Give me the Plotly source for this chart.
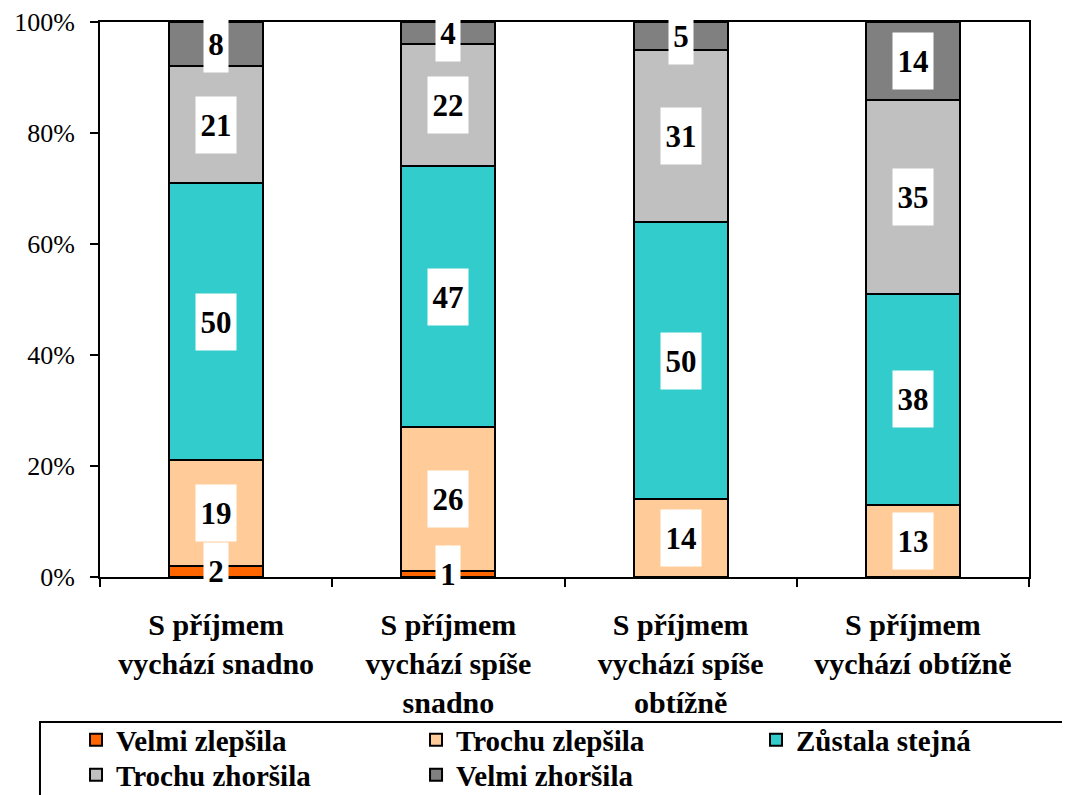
import plotly.graph_objects as go

categories = [
    "S příjmem<br>vychází snadno",
    "S příjmem<br>vychází spíše<br>snadno",
    "S příjmem<br>vychází spíše<br>obtížně",
    "S příjmem<br>vychází obtížně",
]
series_names = ["Velmi zlepšila", "Trochu zlepšila", "Zůstala stejná", "Trochu zhoršila", "Velmi zhoršila"]
velmi_zlepsila = [2, 1, 0, 0]
trochu_zlepsila = [19, 26, 14, 13]
zustala_stejna = [50, 47, 50, 38]
trochu_zhorsila = [21, 22, 31, 35]
velmi_zhorsila = [8, 4, 5, 14]
y_ticks = [0, 20, 40, 60, 80, 100]
y_tick_labels = ["0%", "20%", "40%", "60%", "80%", "100%"]

series_values = [velmi_zlepsila, trochu_zlepsila, zustala_stejna, trochu_zhorsila, velmi_zhorsila]
colors = ["#FF6600", "#FFCC99", "#33CCCC", "#C0C0C0", "#808080"]
legend_rows = ["legend", "legend", "legend", "legend2", "legend2"]

FONT = "Liberation Serif"

fig = go.Figure()
for name, vals, col, lg in zip(series_names, series_values, colors, legend_rows):
    fig.add_trace(go.Bar(
        x=categories, y=vals, name=name, legend=lg,
        marker=dict(color=col, line=dict(color="black", width=2)),
        hoverinfo="skip",
    ))

# data labels at segment centres
annotations = []
for ci, cat in enumerate(categories):
    base = 0
    for vals in series_values:
        v = vals[ci]
        if v > 0:
            txt = str(v)
            annotations.append(dict(
                x=cat, y=base + v / 2, xref="x", yref="y",
                text="<b>%s</b>" % txt, showarrow=False,
                font=dict(family=FONT, size=31, color="black"),
                bgcolor="white", borderpad=3,
                width=16 * len(txt) + 2, height=50,
            ))
        base += v

# legend frame (extends past the page edges as in the reference)
shapes = [dict(
    type="rect", xref="paper", yref="paper",
    x0=-0.0646, x1=1.2, y0=-0.2613, y1=-0.6,
    line=dict(color="black", width=2), fillcolor="rgba(0,0,0,0)",
    layer="below",
)]

legend_common = dict(
    orientation="h",
    x=-0.0258, xanchor="left",
    yanchor="top",
    entrywidth=295, entrywidthmode="pixels",
    borderwidth=0, bgcolor="rgba(0,0,0,0)",
    font=dict(family=FONT, size=29, color="black", weight="bold"),
    traceorder="normal",
)

fig.update_layout(
    barmode="stack",
    bargap=0.595,
    width=1062, height=787,
    margin=dict(l=92, r=41, t=14, b=218, autoexpand=False),
    paper_bgcolor="white", plot_bgcolor="white",
    annotations=annotations,
    shapes=shapes,
    showlegend=True,
    legend=dict(y=-0.2477, **legend_common),
    legend2=dict(y=-0.3108, **legend_common),
    xaxis=dict(
        showline=True, linecolor="black", linewidth=2, mirror=True,
        ticks="outside", tickson="boundaries", ticklen=8, tickcolor="black", tickwidth=2,
        tickfont=dict(family=FONT, size=30, color="black", weight="bold"),
        ticklabelstandoff=20,
        showgrid=False,
    ),
    yaxis=dict(
        range=[0, 100], tickvals=y_ticks, ticktext=y_tick_labels,
        showline=True, linecolor="black", linewidth=2, mirror=True,
        ticks="outside", ticklen=8, tickcolor="black", tickwidth=2,
        tickfont=dict(family=FONT, size=26, color="black"),
        ticklabelstandoff=10,
        showgrid=False, zeroline=False,
    ),
)

fig.write_html("out.html")
